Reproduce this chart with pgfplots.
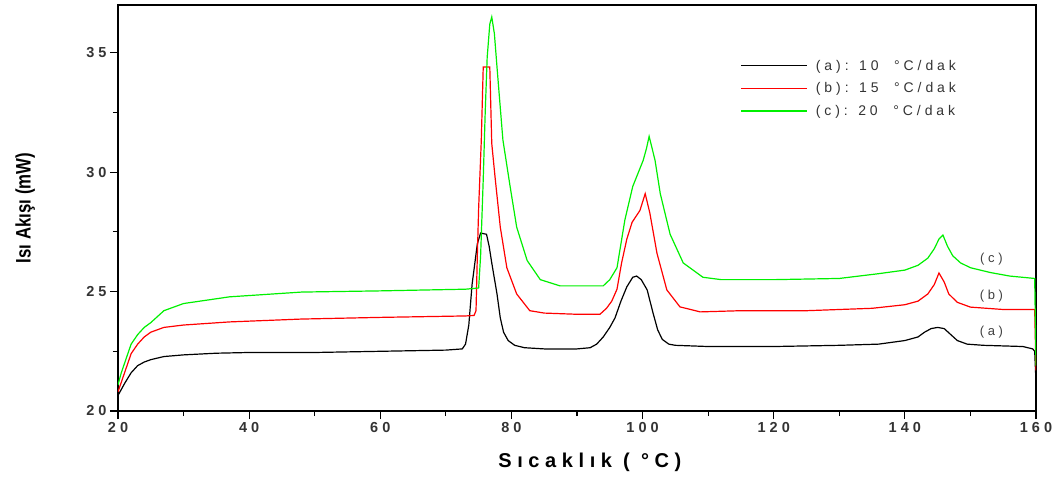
\documentclass[border=0pt]{standalone}
\usepackage{pgfplots}
\pgfplotsset{compat=1.18}
\usepackage{fontspec}
\setmainfont{Liberation Sans}
\newfontfamily\spaced[LetterSpace=28]{Liberation Sans}
\newfontfamily\narrow[FakeStretch=0.8]{Liberation Sans}
\definecolor{cred}{RGB}{255,0,0}
\definecolor{cgreen}{RGB}{0,240,0}
\begin{document}
\begin{tikzpicture}
\useasboundingbox (-118pt,-66pt) rectangle (936pt,411pt);
\begin{axis}[
  scale only axis, width=918pt, height=406pt,
  xmin=20, xmax=160, ymin=20, ymax=37,
  xtick={20,40,...,160}, ytick={20,25,30,35},
  minor x tick num=1, minor y tick num=1,
  tick pos=left, tick align=outside,
  major tick length=8pt, minor tick length=5pt,
  every tick/.style={line width=1.2pt, black},
  axis line style={line width=1.4pt},
  /pgf/number format/assume math mode=true,
  ticklabel style={font=\spaced\bfseries\fontsize{14.5}{14.5}\selectfont, text=black!80},
  xlabel={Sıcaklık ( °C)},
  ylabel={Isı Akışı (mW)},
  xlabel style={at={(axis description cs:0.514,-0.126)}, anchor=center, font=\spaced\bfseries\fontsize{20}{20}\selectfont},
  ylabel style={at={(axis description cs:-0.101,0.5)}, anchor=center, font=\narrow\bfseries\fontsize{21}{21}\selectfont},
  legend style={at={(rel axis cs:0.678,0.87)}, anchor=north west, draw=none, fill=none,
    font=\spaced\fontsize{14}{14}\selectfont, text=black!80, row sep=7pt, inner sep=0pt,
    /tikz/every even column/.append style={column sep=0pt}},
  legend cell align=left,
  legend image code/.code={\draw[#1, line width=1.3pt] (0pt,0pt) -- (66pt,0pt);},
  every axis plot/.append style={line width=1.2pt},
]
\addplot[black] coordinates {
(20,20.65)(20.5,20.9)(21,21.15)(22,21.6)(23,21.9)(24,22.05)(25,22.15)(27,22.28)(30,22.35)(35,22.42)(40,22.45)(50,22.45)(60,22.5)(70,22.55)(72.5,22.6)
(73,22.8)(73.5,23.6)(74,25.3)(74.8,27.0)(75.3,27.45)(76.2,27.4)(76.6,26.9)(77.0,26.2)(77.8,24.9)(78.3,23.9)(78.8,23.3)(79.5,22.95)(80.5,22.75)(82,22.65)(85,22.6)(90,22.6)
(92,22.65)(93,22.8)(94,23.1)(95,23.5)(95.8,23.9)(96.7,24.6)(97.6,25.2)(98.5,25.6)(99.1,25.65)(99.8,25.5)(100.7,25.07)(101.6,24.1)(102.3,23.4)(103,23.0)(104,22.8)(105,22.75)
(110,22.7)(120,22.7)(130,22.75)(136,22.8)(140,22.95)(142,23.1)(143,23.3)(144,23.45)(145,23.5)(146,23.45)(147,23.2)(148,22.95)(149.5,22.8)(152,22.75)(158,22.7)(159.5,22.6)(159.8,22.5)(160,21.2)
};
\addlegendentry{\hspace{6pt}(a): 10 \ °C/dak}
\addplot[cred] coordinates {
(20,20.8)(20.5,21.2)(21,21.6)(22,22.4)(23,22.8)(24,23.1)(25,23.3)(27,23.5)(30,23.6)(37,23.73)(48,23.85)(60,23.92)(73,23.98)(74.3,24.0)
(74.6,24.2)(74.8,26.5)(75.0,28.5)(75.4,31.3)(75.7,34.4)(76.7,34.4)(77.0,31.2)(77.5,29.8)(78.3,27.7)(79.3,26.0)(80.8,24.9)(82.8,24.2)(85,24.1)(90,24.05)(93.5,24.05)
(94.5,24.3)(95.3,24.6)(96.1,25.1)(96.8,26.2)(97.6,27.2)(98.4,27.9)(99.6,28.4)(100.4,29.1)(101.1,28.3)(102.2,26.6)(103.7,25.07)(105.7,24.36)(108.8,24.15)
(115,24.2)(125,24.2)(135,24.3)(140,24.45)(142,24.6)(143.5,24.9)(144.5,25.3)(145.2,25.78)(146,25.4)(146.7,24.9)(148,24.55)(150,24.35)(155,24.25)(159.8,24.25)(160,21.7)
};
\addlegendentry{\hspace{6pt}(b): 15 \ °C/dak}
\addplot[cgreen] coordinates {
(20,21.1)(20.5,21.6)(21,22.0)(22,22.8)(23,23.2)(24,23.5)(25,23.7)(27,24.2)(30,24.5)(37,24.78)(48,24.98)(60,25.03)(73,25.1)(75,25.15)
(75.3,26.5)(75.7,29.7)(76.0,32.5)(76.3,34.8)(76.7,36.2)(77.0,36.5)(77.4,35.8)(77.8,34.4)(78.3,32.7)(78.7,31.35)(79.8,29.4)(80.8,27.7)(82.4,26.3)(84.4,25.5)(87.4,25.24)(94,25.24)
(95,25.5)(96.1,26.0)(97.3,28.0)(98.5,29.4)(100.1,30.5)(100.6,31.0)(101.0,31.5)(101.9,30.5)(102.7,29.1)(104.2,27.4)(106.2,26.2)(109.2,25.6)(112,25.5)
(120,25.5)(130,25.55)(136,25.75)(140,25.9)(142,26.1)(143.5,26.4)(144.5,26.8)(145.2,27.2)(145.8,27.37)(146.5,26.9)(147.3,26.5)(148.5,26.2)(150,26.0)(153,25.8)(156,25.65)(159.8,25.55)(160,21.9)
};
\addlegendentry{\hspace{6pt}(c): 20 \ °C/dak}
\node[font=\spaced\fontsize{13}{13}\selectfont, text=black!75] at (axis cs:153.2,23.3) {(a)};
\node[font=\spaced\fontsize{13}{13}\selectfont, text=black!75] at (axis cs:153.2,24.8) {(b)};
\node[font=\spaced\fontsize{13}{13}\selectfont, text=black!75] at (axis cs:153.2,26.35) {(c)};
\end{axis}
\end{tikzpicture}
\end{document}
